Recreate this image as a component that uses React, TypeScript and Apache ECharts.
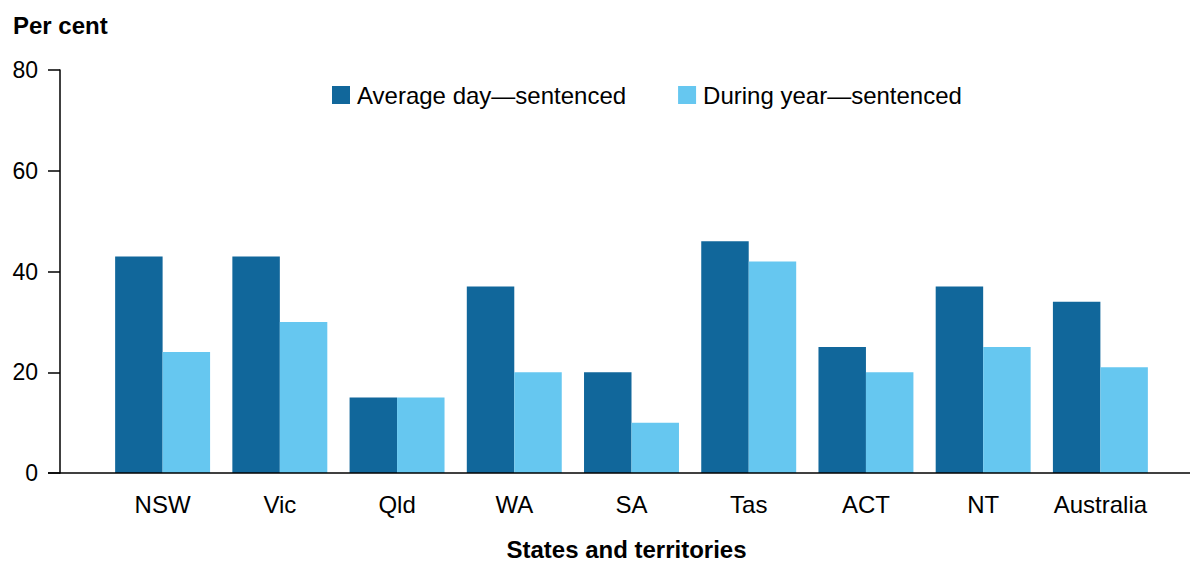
import React, { useEffect, useRef } from "react";
import * as echarts from "echarts";

const categories = ["NSW", "Vic", "Qld", "WA", "SA", "Tas", "ACT", "NT", "Australia"];
const averageDay = [43, 43, 15, 37, 20, 46, 25, 37, 34];
const duringYear = [24, 30, 15, 20, 10, 42, 20, 25, 21];
const seriesNames = ["Average day\u2014sentenced", "During year\u2014sentenced"];

const FONT = "Liberation Sans, Arial, sans-serif";
const GRID_LEFT = 104;
const GRID_RIGHT = 31;
const GRID_TOP = 70;
const GRID_BOTTOM = 90;
const W = 1190;
const H = 563;

export default function App() {
  const ref = useRef<HTMLDivElement>(null);
  useEffect(() => {
    if (!ref.current) return;
    const chart = echarts.init(ref.current, undefined, { renderer: "svg" });
    chart.setOption({
      animation: false,
      backgroundColor: "#ffffff",
      textStyle: { fontFamily: FONT },
      title: {
        text: "Per cent",
        left: 8,
        top: 8,
        textStyle: { fontFamily: FONT, fontSize: 24, fontWeight: "bold", color: "#000" },
      },
      legend: {
        top: 78,
        left: 327,
        itemWidth: 18,
        itemHeight: 18,
        itemGap: 52,
        icon: "rect",
        textStyle: { fontFamily: FONT, fontSize: 24, color: "#000", padding: [0, 0, 0, 2] },
        data: seriesNames,
      },
      grid: {
        left: GRID_LEFT,
        right: GRID_RIGHT,
        top: GRID_TOP,
        bottom: GRID_BOTTOM,
        containLabel: false,
        outerBoundsMode: "none",
      },
      xAxis: {
        type: "category",
        data: categories,
        axisLine: { show: false },
        axisTick: { show: false },
        axisLabel: { fontFamily: FONT, fontSize: 24, color: "#000", margin: 19, interval: 0 },
        name: "States and territories",
        nameLocation: "middle",
        nameGap: 66,
        nameTextStyle: {
          fontFamily: FONT,
          fontSize: 24,
          lineHeight: 20,
          fontWeight: "bold",
          color: "#000",
          padding: [0, 10, 0, 0],
        },
      },
      yAxis: {
        type: "value",
        min: 0,
        max: 80,
        interval: 20,
        offset: 44,
        splitLine: { show: false },
        axisLine: { show: true, lineStyle: { color: "#000", width: 1.5 } },
        axisTick: { show: true, length: 12, lineStyle: { color: "#000", width: 1.5 } },
        axisLabel: { fontFamily: FONT, fontSize: 23, color: "#000", margin: 22 },
      },
      series: [
        {
          name: seriesNames[0],
          type: "bar",
          data: averageDay,
          itemStyle: { color: "#11679b" },
          barGap: "0%",
          barCategoryGap: "19%",
        },
        {
          name: seriesNames[1],
          type: "bar",
          data: duringYear,
          itemStyle: { color: "#66c7f0" },
          barGap: "0%",
          barCategoryGap: "19%",
        },
      ],
      graphic: [
        {
          type: "line",
          shape: { x1: 48, y1: H - GRID_BOTTOM, x2: W, y2: H - GRID_BOTTOM },
          style: { stroke: "#000", lineWidth: 1.5 },
          z: 100,
        },
      ],
    });
    return () => chart.dispose();
  }, []);
  return (
    <div
      ref={ref}
      style={{ position: "absolute", left: 0, top: 0, width: W, height: H }}
    />
  );
}
